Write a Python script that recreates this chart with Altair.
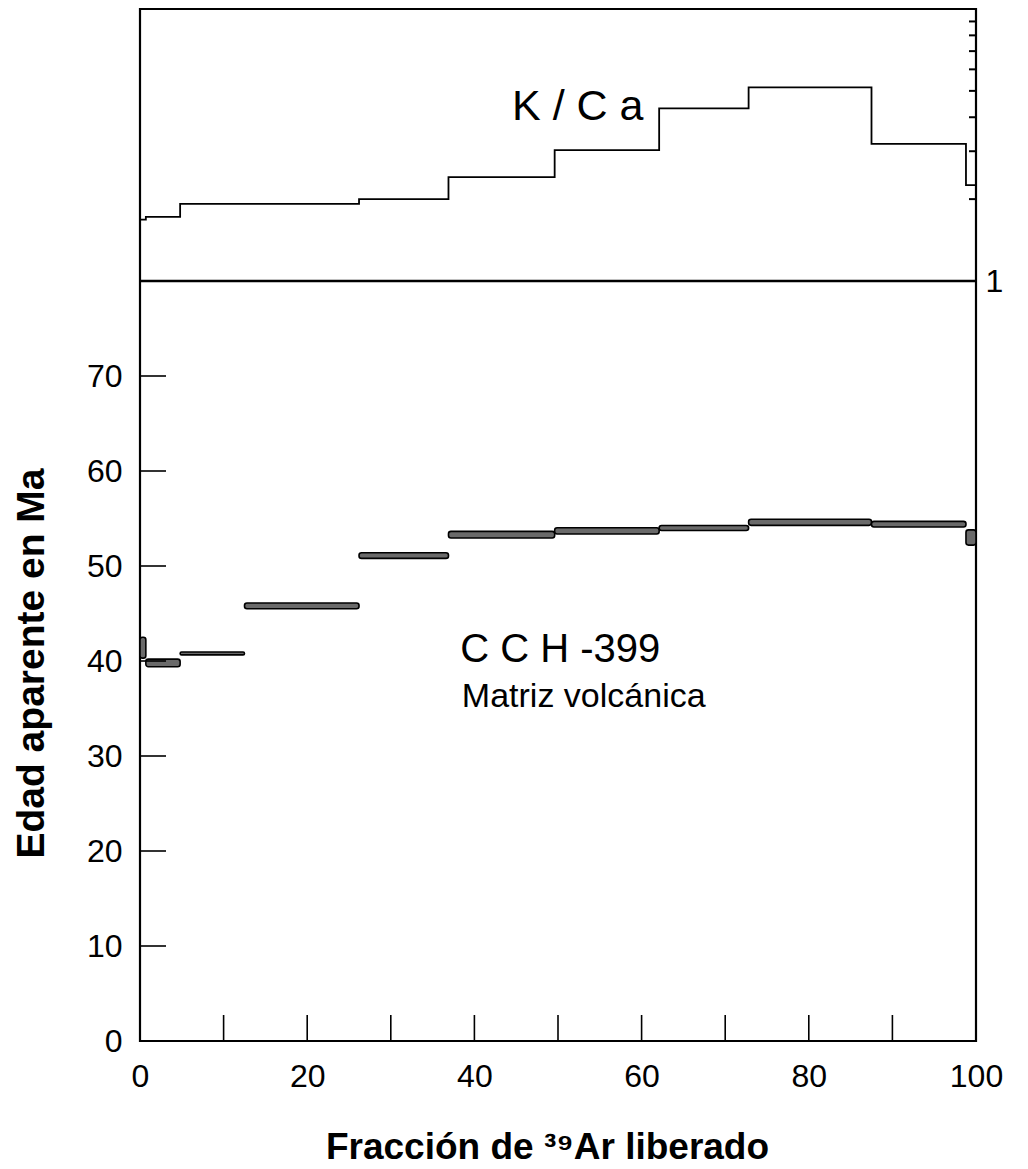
import altair as alt
import pandas as pd

# ---- data ----
frac_start = [0.0, 0.7, 4.8, 12.5, 26.2, 36.9, 49.6, 62.1, 72.8, 87.5, 98.8]
frac_end = [0.7, 4.8, 12.5, 26.2, 36.9, 49.6, 62.1, 72.8, 87.5, 98.8, 100.0]
age_ma = [41.4, 39.8, 40.8, 45.8, 51.1, 53.3, 53.7, 54.0, 54.6, 54.4, 53.0]
age_err = [1.1, 0.4, 0.15, 0.3, 0.3, 0.35, 0.33, 0.26, 0.32, 0.3, 0.8]
kca = [1.68, 1.72, 1.92, 1.92, 2.0, 2.41, 3.03, 4.31, 5.15, 3.19, 2.25]

x_ticks = [10, 20, 30, 40, 50, 60, 70, 80, 90]
x_labels = [0, 20, 40, 60, 80, 100]
y_ticks = [10, 20, 30, 40, 50, 60, 70]
y_labels = [0, 10, 20, 30, 40, 50, 60, 70]
kca_ticks = [2, 3, 4, 5, 6, 7, 8, 9]

FONT = "Liberation Sans"
W, H, TOP_H = 836, 1032, 272

steps = pd.DataFrame({"start": frac_start, "end": frac_end, "age": age_ma, "err": age_err})
kca_df = pd.DataFrame({"x": frac_start + [100.0], "k": kca + [kca[-1]]})

x_scale = alt.Scale(domain=[0, 100], nice=False, zero=False)
age_scale = alt.Scale(domain=[0, 80], range=[H, TOP_H], nice=False, zero=False)
kca_scale = alt.Scale(type="log", domain=[1, 10], range=[TOP_H, 0], nice=False)

x_axis = alt.Axis(values=x_labels, ticks=False, tickSize=0, domain=False, grid=False,
                  labelFontSize=32, labelPadding=20, labelFont=FONT, labelColor="black",
                  labelFlush=False, labelOverlap=False,
                  title="Fracción de ³⁹Ar liberado", titleFontSize=37, titleFontWeight="bold",
                  titleFont=FONT, titleColor="black", titleY=117, titleX=407,
                  titleAlign="center", titleBaseline="alphabetic")
age_axis = alt.Axis(orient="left", values=y_labels, ticks=False, tickSize=0, domain=False,
                    grid=False, labelFontSize=32, labelPadding=18, labelFont=FONT,
                    labelColor="black", labelFlush=False, labelOverlap=False,
                    title="Edad aparente en Ma", titleFontSize=39,
                    titleFontWeight="bold", titleFont=FONT, titleColor="black",
                    titleAngle=270, titleX=-97, titleY=654, titleAlign="center",
                    titleBaseline="alphabetic")
kca_axis = alt.Axis(orient="right", values=[1], format="d", ticks=False, tickSize=0,
                    domain=False, grid=False, labelFontSize=32, labelPadding=9,
                    labelFlush=False, labelFont=FONT, labelColor="black", title=None)


def X(field):
    return alt.X(field, type="quantitative", scale=x_scale, axis=x_axis)


def YA(field):
    return alt.Y(field, type="quantitative", scale=age_scale, axis=age_axis)


def YK(field):
    return alt.Y(field, type="quantitative", scale=kca_scale, axis=kca_axis)


# ---- age spectrum ----
boxes = alt.Chart(steps).transform_calculate(
    lo="datum.age - datum.err", hi="datum.age + datum.err"
).mark_rect(fill="#6a6a6a", stroke="black", strokeWidth=1.6, cornerRadius=2.5).encode(
    x=X("start"), x2="end", y=YA("lo"), y2="hi"
)

xtick_rules = alt.Chart(pd.DataFrame({"t": x_ticks})).mark_rule(
    color="black", strokeWidth=1.6
).encode(x=X("t"), y=alt.value(H - 26), y2=alt.value(H))

ytick_rules = alt.Chart(pd.DataFrame({"t": y_ticks})).mark_rule(
    color="black", strokeWidth=1.6
).encode(y=YA("t"), x=alt.value(0), x2=alt.value(26))

mid_line = alt.Chart(pd.DataFrame({"a": [0]})).mark_rule(
    color="black", strokeWidth=2.6
).encode(x=alt.value(0), x2=alt.value(W), y=alt.value(TOP_H))

sample_txt = alt.Chart(pd.DataFrame({"x": [38.3], "y": [39.9], "t": ["C C H -399"]})).mark_text(
    align="left", baseline="alphabetic", fontSize=40, font=FONT, color="black"
).encode(x=X("x"), y=YA("y"), text="t:N")

matrix_txt = alt.Chart(pd.DataFrame({"x": [38.5], "y": [35.2], "t": ["Matriz volcánica"]})).mark_text(
    align="left", baseline="alphabetic", fontSize=34, font=FONT, color="black"
).encode(x=X("x"), y=YA("y"), text="t:N")

age_group = alt.layer(boxes, xtick_rules, ytick_rules, mid_line, sample_txt, matrix_txt)

# ---- K/Ca ----
kca_line = alt.Chart(kca_df).mark_line(
    interpolate="step-after", color="black", strokeWidth=1.8
).encode(x=X("x"), y=YK("k"))

kca_tick_rules = alt.Chart(pd.DataFrame({"t": kca_ticks})).mark_rule(
    color="black", strokeWidth=2
).encode(y=YK("t"), x=alt.value(W - 7), x2=alt.value(W))

kca_txt = alt.Chart(pd.DataFrame({"x": [44.5], "y": [3.91], "t": ["K / C a"]})).mark_text(
    align="left", baseline="alphabetic", fontSize=43, font=FONT, color="black"
).encode(x=X("x"), y=YK("y"), text="t:N")

kca_group = alt.layer(kca_line, kca_tick_rules, kca_txt)

chart = alt.layer(age_group, kca_group).resolve_scale(y="independent").properties(
    width=W, height=H,
    padding={"left": 140, "top": 9, "right": 52, "bottom": 128},
    autosize="none", background="white"
).configure_view(stroke="black", strokeWidth=2.2)

chart.save("out.html", embed_options={"renderer": "svg", "actions": False})
